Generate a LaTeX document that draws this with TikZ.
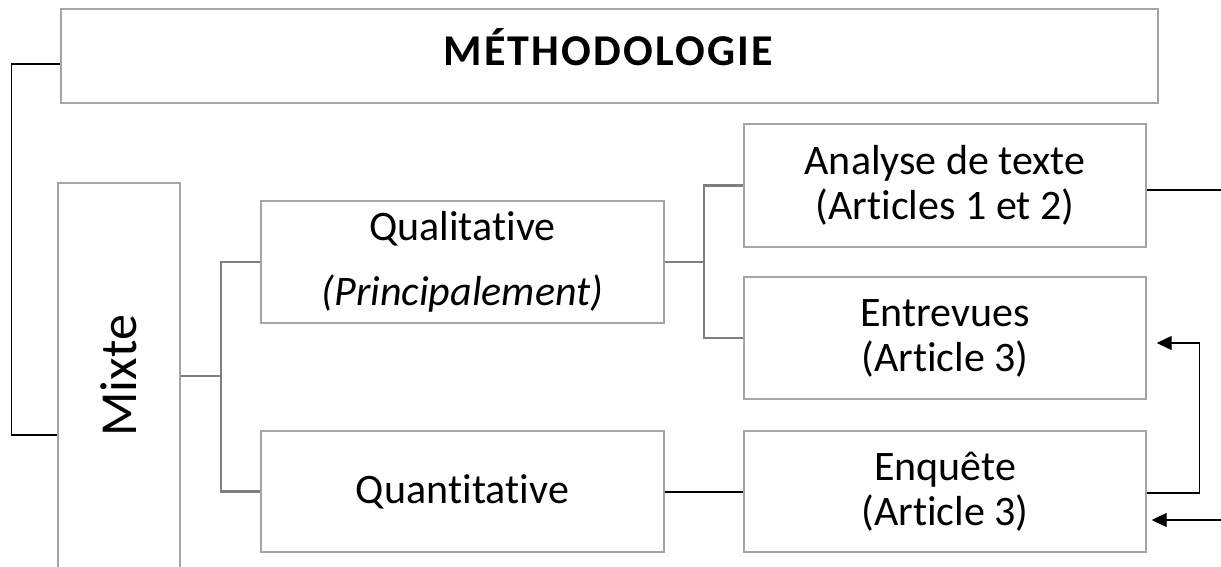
\documentclass[tikz,border=0pt]{standalone}
\usepackage{fontspec}
\setmainfont{Carlito}[Ligatures=NoCommon]
\usepackage{graphicx}
\usetikzlibrary{arrows.meta}
\definecolor{grisbord}{HTML}{A5A5A5}
\definecolor{gristrait}{HTML}{7F7F7F}
\newcommand{\tI}{\hbox{t}\hbox{i}}% pas de ligature ti
\tikzset{
  boite/.style={draw=grisbord, line width=1.4pt, inner sep=0pt, align=center,
    font=\fontsize{42}{45}\selectfont},
  branche/.style={draw=gristrait, line width=2.2pt},
  lien/.style={draw=black, line width=1.1pt},
  fleche/.style={lien, -{Triangle[length=15pt,width=14pt]}}
}
\begin{document}
\begin{tikzpicture}[x=1pt,y=-1pt]
\useasboundingbox (0,0) rectangle (1221,567);
\clip (0,0) rectangle (1221,567);
% les boites
\node[boite, minimum width=1097pt, minimum height=94pt, text height=28pt, text depth=9pt] (titre) at (609.5,56) {\fontsize{44}{44}\selectfont\addfontfeature{LetterSpace=5}\textbf{MÉTHODOLOGIE}};
\node[boite, minimum width=122pt, minimum height=386pt] (mixte) at (119,376) {\rotatebox{90}{\fontsize{52}{52}\selectfont Mixte}};
\node[boite, minimum width=403pt, minimum height=122pt] (qual) at (462.5,262) {Qualita\tI ve\\[20pt]\textit{(Principalement)}};
\node[boite, minimum width=403pt, minimum height=121pt] (quant) at (462.5,491.5) {Quan\tI ta\tI ve};
\node[boite, minimum width=402pt, minimum height=123pt] (analyse) at (945,185.5) {Analyse de texte\\(Ar\tI cles 1 et 2)};
\node[boite, minimum width=402pt, minimum height=122pt] (entrevues) at (945,338) {Entrevues\\(Ar\tI cle 3)};
\node[boite, minimum width=402pt, minimum height=121pt] (enquete) at (945,491.5) {Enquête\\(Ar\tI cle 3)};
\coordinate (bordA) at (1221,190);
\coordinate (bordB) at (1221,520);
% liens
\draw[lien] ([yshift=-8pt]titre.west) -- ++(-49,0) |- ([yshift=-59pt]mixte.west);
\draw[branche] (mixte.east) -- ++(40,0) coordinate (bm);
\draw[branche] (qual.west) -| (bm) |- (quant.west);
\draw[branche] (qual.east) -- ++(39,0) coordinate (bq);
\draw[branche] (analyse.west) -| (bq) |- (entrevues.west);
\draw[lien, line width=2pt] (quant.east) -- (enquete.west);
\draw[lien] ([yshift=-4.5pt]analyse.east) -- (bordA);
\draw[fleche] ([yshift=-1.5pt]enquete.east) -- ++(53,0) |- ([xshift=10pt,yshift=-5pt]entrevues.east);
\draw[fleche] (bordB) -- ([xshift=5pt]enquete.east |- bordB);
\end{tikzpicture}
\end{document}
